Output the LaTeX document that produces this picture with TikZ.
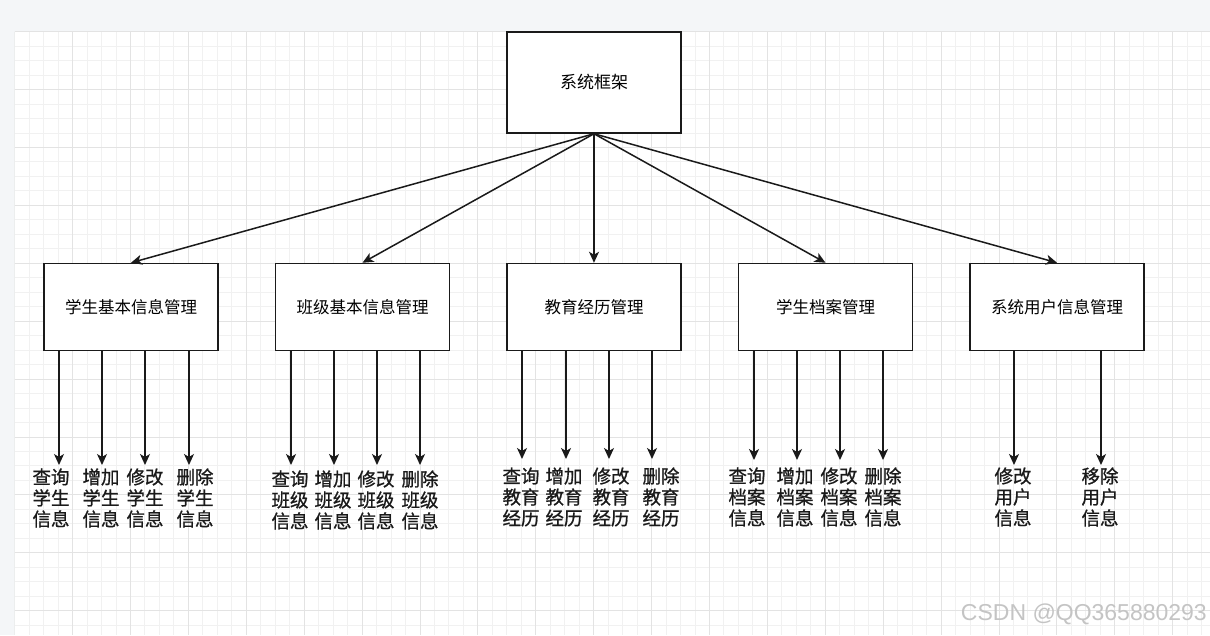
\documentclass[tikz,border=0pt]{standalone}
\usepackage{fontspec}
\newfontfamily\cjk{Noto Sans CJK SC}
\newfontfamily\cjkleaf[FakeBold=0.9]{Noto Sans CJK SC}
\setmainfont{Liberation Sans}
\usetikzlibrary{arrows.meta}

\definecolor{pagebg}{HTML}{F4F6F8}
\definecolor{gridminor}{HTML}{F1F1F1}
\definecolor{gridmajor}{HTML}{E3E3E3}
\definecolor{ink}{HTML}{1A1A1A}
\definecolor{mark}{HTML}{C4C4C4}

\tikzset{
  box/.style={draw=ink, line width=1.5pt, fill=white, minimum width=174pt,
              minimum height=87pt, inner sep=0pt, font=\cjk\fontsize{16.5}{19}\selectfont},
  leaf/.style={align=center, inner sep=0pt, text=ink,
               font=\cjkleaf\fontsize{18.5}{21}\selectfont},
  arr/.style={draw=ink, line width=1.5pt, -{Stealth[length=11pt,width=10pt,inset=3pt]}},
  minorline/.style={draw=gridminor, line width=1pt},
  majorline/.style={draw=gridmajor, line width=1pt}
}

\begin{document}
\begin{tikzpicture}[x=1pt,y=-1pt]
  % page and canvas
  \fill[pagebg] (0,0) rectangle (1210,635);
  \useasboundingbox (0,0) rectangle (1210,635);
  \fill[white] (14.7,31.7) rectangle (1210,635);
  \begin{scope}
    \clip (14.7,31.7) rectangle (1210,635);
    \foreach \i in {0,...,82} {
      \pgfmathsetmacro\xx{14.7+\i*14.475}
      \draw[minorline] (\xx,31.7) -- (\xx,635);
    }
    \foreach \i in {0,...,41} {
      \pgfmathsetmacro\yy{31.7+\i*14.475}
      \draw[minorline] (14.7,\yy) -- (1210,\yy);
    }
    \foreach \i in {0,4,...,80} {
      \pgfmathsetmacro\xx{14.7+\i*14.475}
      \draw[majorline] (\xx,31.7) -- (\xx,635);
    }
    \foreach \i in {0,4,...,40} {
      \pgfmathsetmacro\yy{31.7+\i*14.475}
      \draw[majorline] (14.7,\yy) -- (1210,\yy);
    }
  \end{scope}

  % root and module boxes
  \node[box, minimum height=101pt, font=\cjk\fontsize{17}{19}\selectfont] (top) at (594,82.5) {系统框架};
  \node[box] (b1) at (131,307)   {学生基本信息管理};
  \node[box] (b2) at (362.5,307) {班级基本信息管理};
  \node[box] (b3) at (594,307)   {教育经历管理};
  \node[box] (b4) at (825.5,307) {学生档案管理};
  \node[box] (b5) at (1057,307)  {系统用户信息管理};

  \foreach \b in {b1,b2,b3,b4,b5}
    \draw[arr] (top.south) -- (\b.north);

  % arrow tips above the function labels
  \coordinate (t11) at (59,465);   \coordinate (t12) at (102,465);
  \coordinate (t13) at (145,465);  \coordinate (t14) at (189,465);
  \coordinate (t21) at (291,465);  \coordinate (t22) at (334,465);
  \coordinate (t23) at (377,465);  \coordinate (t24) at (420,465);
  \coordinate (t31) at (522,459);  \coordinate (t32) at (566,459);
  \coordinate (t33) at (609,459);  \coordinate (t34) at (652,459);
  \coordinate (t41) at (754,460);  \coordinate (t42) at (797,460);
  \coordinate (t43) at (840,460);  \coordinate (t44) at (883,460);
  \coordinate (t51) at (1014,465); \coordinate (t52) at (1101,465);

  \foreach \k in {1,2,3,4} {
    \draw[arr] (b1.south -| t1\k) -- (t1\k);
    \draw[arr] (b2.south -| t2\k) -- (t2\k);
    \draw[arr] (b3.south -| t3\k) -- (t3\k);
    \draw[arr] (b4.south -| t4\k) -- (t4\k);
  }
  \draw[arr] (b5.south -| t51) -- (t51);
  \draw[arr] (b5.south -| t52) -- (t52);

  % function labels
  \node[leaf] (l11) at (51,498)  {查询\\学生\\信息};
  \node[leaf] (l12) at (101,498) {增加\\学生\\信息};
  \node[leaf] (l13) at (145,498) {修改\\学生\\信息};
  \node[leaf] (l14) at (195,498) {删除\\学生\\信息};

  \node[leaf] (l21) at (290,500) {查询\\班级\\信息};
  \node[leaf] (l22) at (333,500) {增加\\班级\\信息};
  \node[leaf] (l23) at (376,500) {修改\\班级\\信息};
  \node[leaf] (l24) at (420,500) {删除\\班级\\信息};

  \node[leaf] (l31) at (521,497) {查询\\教育\\经历};
  \node[leaf] (l32) at (564,497) {增加\\教育\\经历};
  \node[leaf] (l33) at (611,497) {修改\\教育\\经历};
  \node[leaf] (l34) at (661,497) {删除\\教育\\经历};

  \node[leaf] (l41) at (747,497) {查询\\档案\\信息};
  \node[leaf] (l42) at (795,497) {增加\\档案\\信息};
  \node[leaf] (l43) at (839,497) {修改\\档案\\信息};
  \node[leaf] (l44) at (883,497) {删除\\档案\\信息};

  \node[leaf] (l51) at (1013,497) {修改\\用户\\信息};
  \node[leaf] (l52) at (1100,497) {移除\\用户\\信息};

  % watermark
  \node[anchor=east, inner sep=0pt, text=mark, font=\fontsize{23}{26}\selectfont]
    (wm) at (1207,614) {CSDN @QQ365880293};
\end{tikzpicture}
\end{document}
